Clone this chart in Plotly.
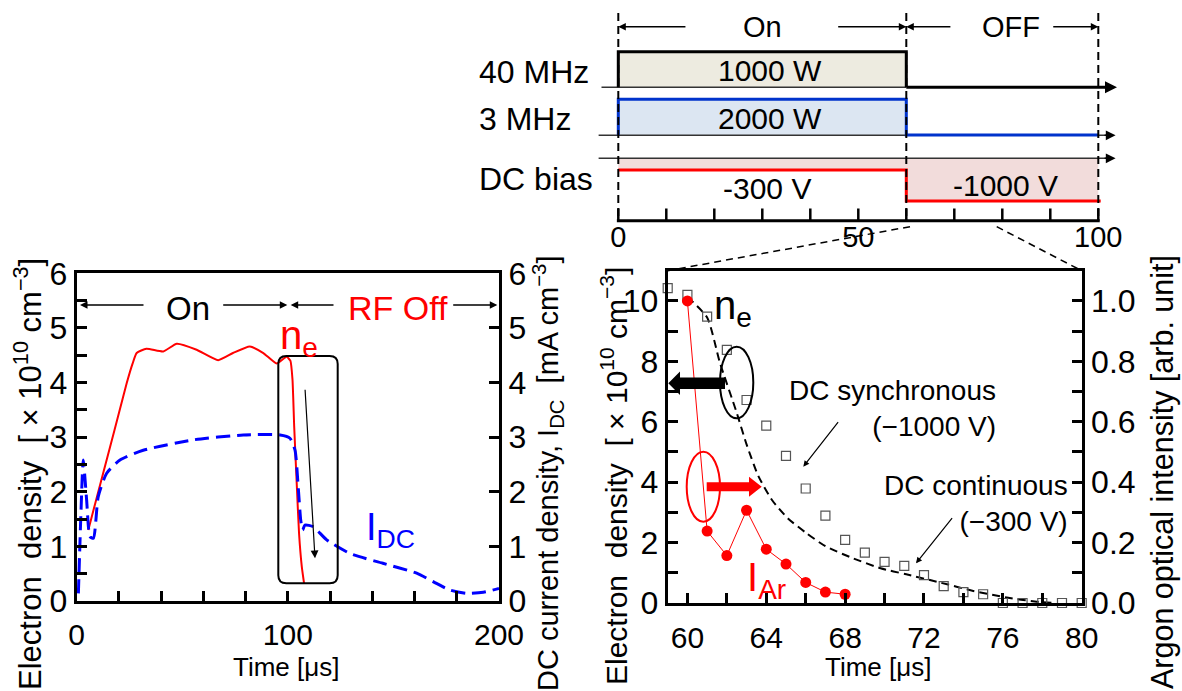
import plotly.graph_objects as go

W, H = 1182, 691
FONT = "Liberation Sans, Arial, Helvetica, sans-serif"

# ---------------- Left chart data (Time 0-200 us) ----------------
ne_t = [5.5, 10, 15.8, 20, 23.7, 26.5, 28.4, 33, 41, 47.4, 56.8, 67, 74, 82, 88.4,
        94.7, 99.4, 101.2, 102.2, 103.0, 104.2, 105.3, 106.6, 107.7]
ne_v = [1.30, 1.97, 2.82, 3.44, 3.99, 4.35, 4.54, 4.62, 4.57, 4.71, 4.60, 4.41, 4.54,
        4.66, 4.54, 4.35, 4.47, 4.40, 4.05, 3.20, 2.15, 1.24, 0.63, 0.32]

idc_t = [0.8, 2.0, 3.1, 4.7, 6.3, 7.9, 10.2, 14.2, 20.5, 31.5, 55.2, 78.9, 96.3, 101,
         103.4, 104.9, 106.1, 107.0, 108.1, 112, 118.4, 129.4, 145, 161, 169, 176.8,
         184.7, 192.6, 200]
idc_v = [0.14, 1.6, 2.58, 1.85, 1.18, 1.15, 1.91, 2.34, 2.58, 2.76, 2.95, 3.04, 3.04,
         2.98, 2.76, 2.09, 1.48, 1.30, 1.39, 1.36, 1.12, 0.87, 0.69, 0.51, 0.35, 0.20,
         0.14, 0.16, 0.23]

# ---------------- Right chart data (Time 59-80 us) ----------------
sync_t = [59, 60, 61, 62, 63, 64, 65, 66, 67, 68, 69, 70, 71, 72, 73, 74, 75, 76, 77, 78, 79, 80]
sync_v = [10.42, 10.2, 9.48, 8.38, 6.72, 5.87, 4.87, 3.79, 2.89, 2.09, 1.67, 1.36, 1.23,
          0.92, 0.56, 0.36, 0.29, 0.0, 0.0, 0.0, 0.0, 0.0]

cont_t = [60.0, 61.0, 61.65, 62.5, 63.0, 63.6, 64.3, 65.1, 66.0, 67.0, 68.4, 69.8, 71.1,
          72.8, 74.5, 76.2, 77.9, 78.7]
cont_v = [10.13, 9.45, 7.95, 6.3, 5.25, 4.2, 3.4, 2.8, 2.33, 1.88, 1.48, 1.15, 0.95,
          0.68, 0.40, 0.18, 0.03, 0.0]

ar_t = [60, 61, 62, 63, 64, 65, 66, 67, 68]
ar_v = [1.0, 0.238, 0.157, 0.307, 0.178, 0.129, 0.068, 0.036, 0.029]

# ---------------- Timing diagram data ----------------
on_start, on_end, period = 0, 60, 100
top_ticks = [0, 10, 20, 30, 40, 50, 60, 70, 80, 90, 100]
power_40 = "1000 W"
power_3 = "2000 W"
dc_on = "-300 V"
dc_off = "-1000 V"


def fx(x):
    return x / W


def fy(y):
    return 1 - y / H


def P(x, y):
    return f"{fx(x):.5f},{fy(y):.5f}"


fig = go.Figure()

# left chart traces
fig.add_trace(go.Scatter(x=idc_t, y=idc_v, xaxis="x", yaxis="y2", mode="lines",
                         line=dict(color="#0000FF", width=3, dash="14px,7px",
                                   shape="spline", smoothing=0.6),
                         showlegend=False, hoverinfo="skip"))
fig.add_trace(go.Scatter(x=ne_t, y=ne_v, xaxis="x", yaxis="y", mode="lines",
                         line=dict(color="#FF0000", width=2, shape="spline", smoothing=0.5),
                         showlegend=False, hoverinfo="skip"))

# right chart traces
fig.add_trace(go.Scatter(x=cont_t, y=cont_v, xaxis="x2", yaxis="y3", mode="lines",
                         line=dict(color="black", width=2, dash="8px,5px", shape="spline",
                                   smoothing=0.6),
                         showlegend=False, hoverinfo="skip"))
fig.add_trace(go.Scatter(x=sync_t, y=sync_v, xaxis="x2", yaxis="y3", mode="markers",
                         marker=dict(symbol="square-open", size=9, color="#555555",
                                     line=dict(width=1.2, color="#555555")),
                         cliponaxis=False, showlegend=False, hoverinfo="skip"))
fig.add_trace(go.Scatter(x=ar_t, y=ar_v, xaxis="x2", yaxis="y4", mode="lines+markers",
                         line=dict(color="#FF0000", width=1),
                         marker=dict(color="#FF0000", size=11),
                         cliponaxis=False, showlegend=False, hoverinfo="skip"))

axis_common = dict(showline=True, linecolor="black", linewidth=3, ticks="inside",
                   ticklen=10, tickwidth=2.5, tickcolor="black", showgrid=False,
                   zeroline=False, automargin=False,
                   tickfont=dict(family=FONT, size=30, color="black"))
yfont = dict(family=FONT, size=32, color="black")

layout = dict(
    width=W, height=H, margin=dict(l=0, r=0, t=0, b=0, autoexpand=False),
    paper_bgcolor="white", plot_bgcolor="rgba(0,0,0,0)",
    font=dict(family=FONT, color="black"),
    showlegend=False,
    xaxis=dict(domain=[fx(76.7), fx(499)], anchor="y", range=[0, 200], dtick=100,
               mirror=True, ticklabelstandoff=5,
               minor=dict(ticks="inside", dtick=20, ticklen=10, tickwidth=2.5,
                          tickcolor="black"),
               **axis_common),
    yaxis=dict(domain=[fy(601), fy(273.3)], anchor="x", range=[0, 6], dtick=1,
               minor=dict(ticks="inside", dtick=0.5, ticklen=10, tickwidth=2.5,
                          tickcolor="black"),
               **{**axis_common, "tickfont": yfont}),
    yaxis2=dict(overlaying="y", side="right", anchor="x", range=[0, 6], dtick=1,
                **{**axis_common, "tickfont": yfont}),
    xaxis2=dict(domain=[fx(667.7), fx(1081.7)], anchor="y3", range=[59, 80], dtick=4,
                tick0=60, mirror=True, ticklabelstandoff=6,
                minor=dict(ticks="inside", dtick=2, tick0=60, ticklen=10, tickwidth=2.5,
                           tickcolor="black"),
                **axis_common),
    yaxis3=dict(domain=[fy(603), fy(270.7)], anchor="x2", range=[0, 11], dtick=2,
                minor=dict(ticks="inside", dtick=1, ticklen=10, tickwidth=2.5,
                           tickcolor="black"),
                **{**axis_common, "tickfont": yfont}),
    yaxis4=dict(overlaying="y3", side="right", anchor="x2", range=[0, 1.1], dtick=0.2,
                tickformat=".1f",
                minor=dict(ticks="inside", dtick=0.1, ticklen=10, tickwidth=2.5,
                           tickcolor="black"),
                **{**axis_common, "tickfont": yfont}),
    xaxis3=dict(domain=[fx(596.7), fx(1119.9)], anchor="y5", range=[-4.5, 104.5],
                showline=False, ticks="", dtick=50, tick0=0, showgrid=False,
                zeroline=False, automargin=False, ticklabelstandoff=0,
                tickfont=dict(family=FONT, size=29, color="black")),
    yaxis5=dict(domain=[fy(216.7), 1], anchor="x3", range=[216.7, 0], visible=False,
                automargin=False),
)
fig.update_layout(**layout)

shapes = []
annotations = []


def ann(text, x, y, size=28, color="black", xanchor="center", yanchor="middle",
        angle=0, align="center"):
    annotations.append(dict(text=text, x=fx(x), y=fy(y), xref="paper", yref="paper",
                            showarrow=False,
                            font=dict(family=FONT, size=size, color=color),
                            xanchor=xanchor, yanchor=yanchor, textangle=angle,
                            align=align))


def arrow(hx, hy, tx, ty, color="black", width=1.5, head=2, size=1.0):
    annotations.append(dict(text="", x=fx(hx), y=fy(hy), xref="paper", yref="paper",
                            ax=tx - hx, ay=ty - hy, showarrow=True, arrowhead=head,
                            arrowsize=size, arrowwidth=width, arrowcolor=color,
                            standoff=0, xanchor="center", yanchor="middle"))


# timing diagram helpers: x in time units (axis x3), y in page pixels
def t_ann(text, t, y, size=30, color="black"):
    annotations.append(dict(text=text, x=t, y=fy(y), xref="x3", yref="paper",
                            showarrow=False, xanchor="center", yanchor="middle",
                            font=dict(family=FONT, size=size, color=color)))


def t_arrow(t_head, t_tail, y, width=1.5, size=1.0):
    # y5 axis runs in page-pixel units over the timing panel
    annotations.append(dict(text="", x=t_head, y=y, xref="x3", yref="y5",
                            ax=t_tail, ay=y, axref="x3", ayref="y5",
                            showarrow=True, arrowhead=2, arrowsize=size,
                            arrowwidth=width, arrowcolor="black", standoff=0))


def t_line(t0, y0, t1, y1, color="black", width=3, dash=None):
    shapes.append(dict(type="line", xref="x3", yref="paper", x0=t0, y0=fy(y0), x1=t1,
                       y1=fy(y1), line=dict(color=color, width=width, dash=dash)))


def t_path(pts, fill=None, color="black", width=3, close=False):
    s = "M " + " L ".join(f"{t},{fy(y):.5f}" for t, y in pts)
    if close:
        s += " Z"
    shapes.append(dict(type="path", xref="x3", yref="paper", path=s,
                       fillcolor=fill if fill else "rgba(0,0,0,0)",
                       line=dict(color=color, width=width)))


# ---------------- Timing diagram ----------------
t_path([(on_start, 87.3), (on_start, 51.7), (on_end, 51.7), (on_end, 87.3)],
       fill="#EDEBE0", width=0, close=True)
t_path([(on_start, 135), (on_start, 99.3), (on_end, 99.3), (on_end, 135)],
       fill="#DCE6F2", width=0, close=True)
t_path([(on_start, 158.3), (period, 158.3), (period, 201), (on_end, 201),
        (on_end, 170), (on_start, 170)], fill="#F2DCDB", width=0, close=True)
# baselines with arrows
t_line(-3.5, 87.3, on_end, 87.3, color="#333333", width=1.5)
t_line(on_end, 87.3, 103.0, 87.3, color="black", width=3)
t_line(-4.1, 135.3, 103.0, 135.3, color="#333333", width=1.5)
t_line(-4.1, 158.3, 103.0, 158.3, color="#333333", width=1.5)
t_arrow(103.9, 101.0, 87.3, width=2, size=1.2)
t_arrow(103.6, 101.0, 135.3, width=1.5, size=1.3)
t_arrow(103.6, 101.0, 158.3, width=1.5, size=1.3)
# signal outlines
t_path([(on_start, 87.3), (on_start, 51.7), (on_end, 51.7), (on_end, 87.3)],
       color="black", width=3)
t_path([(on_start, 135), (on_start, 99.3), (on_end, 99.3), (on_end, 135), (period, 135)],
       color="#0033CC", width=3)
t_path([(on_start, 170), (on_end, 170), (on_end, 201), (period + 0.5, 201)],
       color="#FF0000", width=3)
# dashed period markers, axis line, ticks
for tv in (on_start, on_end, period):
    t_line(tv, 13, tv, 220.7, color="black", width=2, dash="8px,5px")
t_line(on_start - 0.3, 220.7, period + 0.3, 220.7, color="black", width=3)
for tv in top_ticks:
    t_line(tv, 208.5, tv, 220.7, color="black", width=2.5)

t_ann("On", (on_start + on_end) / 2, 26.7, size=29)
t_arrow(on_start, 14.3, 26.7)
t_arrow(on_end, 45.5, 26.7)
t_ann("OFF", 81.75, 26.7, size=29)
t_arrow(on_end, 69.5, 26.7)
t_arrow(period, 90.3, 26.7)
t_ann(power_40, 31.6, 70)
t_ann(power_3, 31.6, 118)
t_ann(dc_on, 30.9, 188.3)
t_ann(dc_off, 80.6, 185)

ann("40 MHz", 476.7, 71.7, size=32, xanchor="left")
ann("3 MHz", 476.7, 119, size=32, xanchor="left")
ann("DC bias", 476.7, 179, size=32, xanchor="left")

# zoom connector lines
for (x0, y0, x1, y1) in [(910, 226.7, 667.7, 270.7), (996.7, 226.7, 1081.7, 270.7)]:
    shapes.append(dict(type="line", xref="paper", yref="paper", x0=fx(x0), y0=fy(y0),
                       x1=fx(x1), y1=fy(y1),
                       line=dict(color="black", width=1.5, dash="7px,5px")))

# ---------------- Left chart decorations ----------------
ann("On", 188.3, 308, size=33)
ann("RF Off", 398.3, 308, size=34, color="#FF0000")
arrow(80, 305, 145, 305)
arrow(287.3, 305, 221.7, 305)
arrow(290.7, 305, 335, 305)
arrow(497.3, 305, 451.7, 305)
ann("n<sub>e</sub>", 299, 338, size=40, color="#FF0000")
ann("I<sub>DC</sub>", 391, 530, size=38, color="#0000FF")

x0, x1, y0, y1, r = 278.3, 337.7, 356, 583.3, 8
rr = (f"M {P(x0 + r, y0)} L {P(x1 - r, y0)} Q {P(x1, y0)} {P(x1, y0 + r)} "
      f"L {P(x1, y1 - r)} Q {P(x1, y1)} {P(x1 - r, y1)} L {P(x0 + r, y1)} "
      f"Q {P(x0, y1)} {P(x0, y1 - r)} L {P(x0, y0 + r)} Q {P(x0, y0)} {P(x0 + r, y0)} Z")
shapes.append(dict(type="path", xref="paper", yref="paper", path=rr,
                   line=dict(color="black", width=2)))
arrow(315, 558.3, 305, 388.3, width=1.2, size=1.3)

ann("Electron\u00a0\u00a0density\u00a0\u00a0[\u00a0×\u00a010<sup>10</sup>\u00a0cm<sup>−3</sup>]",
    28, 474, size=31, angle=-90)
ann("DC current density, I<sub>DC</sub>\u00a0\u00a0[mA cm<sup>−3</sup>]",
    548, 474, size=29, angle=-90)
ann("Time [μs]", 286, 667, size=26)

# ---------------- Right chart decorations ----------------
ann("n<sub>e</sub>", 733, 308, size=40)
ann("I<sub>Ar</sub>", 766, 580, size=40, color="#FF0000")
shapes.append(dict(type="circle", xref="paper", yref="paper", x0=fx(720), x1=fx(753.3),
                   y0=fy(418.3), y1=fy(346.7), line=dict(color="black", width=2)))
shapes.append(dict(type="circle", xref="paper", yref="paper", x0=fx(686.7), x1=fx(720),
                   y0=fy(521.7), y1=fy(451.7), line=dict(color="#FF0000", width=2)))
blk = (f"M {P(725, 377.5)} L {P(680, 377.5)} L {P(680, 371.5)} L {P(668.3, 383.3)} "
       f"L {P(680, 395)} L {P(680, 389)} L {P(725, 389)} Z")
shapes.append(dict(type="path", xref="paper", yref="paper", path=blk,
                   fillcolor="black", line=dict(color="black", width=0)))
red = (f"M {P(706.7, 482.3)} L {P(749, 482.3)} L {P(749, 476.7)} L {P(761.7, 486.7)} "
       f"L {P(749, 496.7)} L {P(749, 491.3)} L {P(706.7, 491.3)} Z")
shapes.append(dict(type="path", xref="paper", yref="paper", path=red,
                   fillcolor="#FF0000", line=dict(color="#FF0000", width=0)))

ann("DC synchronous<br>(−1000 V)", 998, 408, size=28, xanchor="right", align="right")
ann("DC continuous<br>(−300 V)", 1070, 503, size=28, xanchor="right", align="right")
arrow(803.3, 466.7, 839.3, 420.7, width=1.2)
arrow(916, 563.3, 953.3, 516.7, width=1.2)

ann("Electron\u00a0\u00a0density\u00a0\u00a0[\u00a0×\u00a010<sup>10</sup>\u00a0cm<sup>−3</sup>]",
    614, 476, size=30, angle=-90)
ann("Argon optical intensity [arb. unit]", 1163, 472, size=30.5, angle=-90)
ann("Time [μs]", 878, 667, size=26)

fig.update_layout(shapes=shapes, annotations=annotations)
fig.write_html("out.html")
